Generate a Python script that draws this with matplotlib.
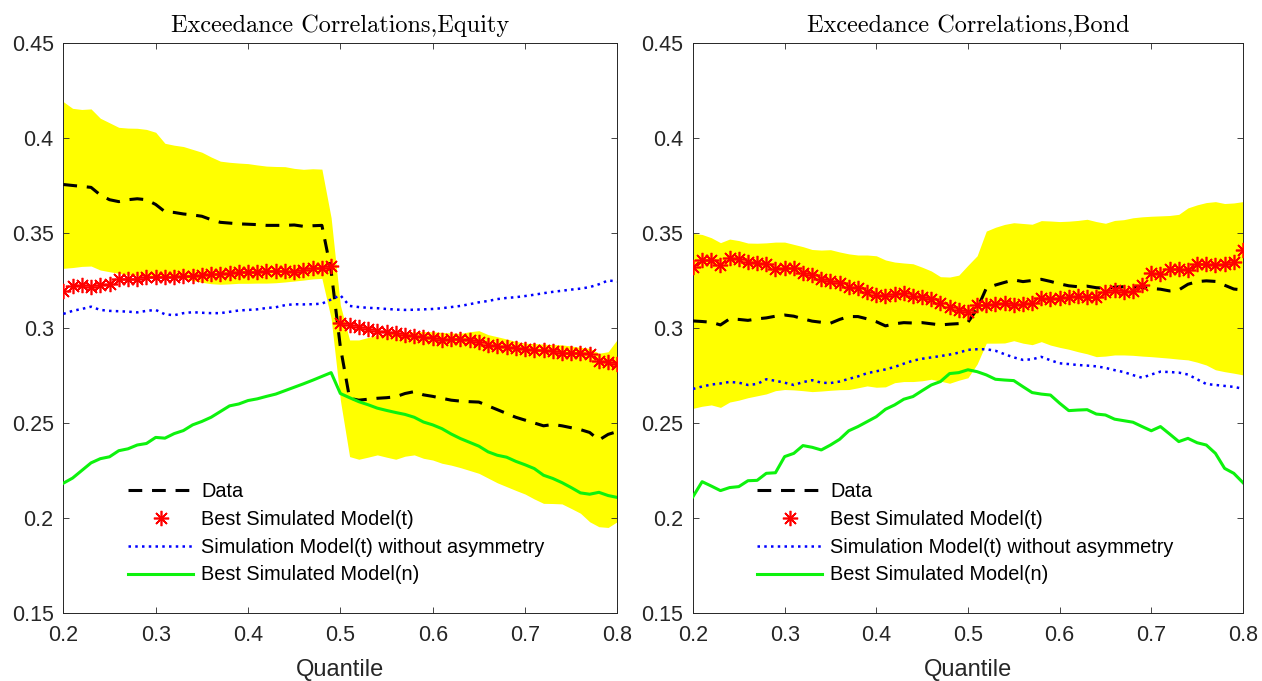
import numpy as np
import matplotlib
matplotlib.use("Agg")
import matplotlib.pyplot as plt
from matplotlib.ticker import FuncFormatter

# quantile grid shared by both panels
quantile = np.round(np.arange(0.20, 0.805, 0.01), 2)

# ---- equity ----
eq_data = [0.3755, 0.3750, 0.3745, 0.3740, 0.3700, 0.3675, 0.3665, 0.3675, 0.3680, 0.3675,
           0.3650, 0.3612, 0.3608, 0.3600, 0.3595, 0.3588, 0.3570, 0.3556, 0.3552, 0.3548,
           0.3546, 0.3544, 0.3540, 0.3540, 0.3540, 0.3542, 0.3535, 0.3538, 0.3540, 0.3300,
           0.2900, 0.2630, 0.2620, 0.2625, 0.2630, 0.2633, 0.2638, 0.2655, 0.2665, 0.2648,
           0.2640, 0.2630, 0.2620, 0.2615, 0.2612, 0.2610, 0.2590, 0.2570, 0.2550, 0.2530,
           0.2515, 0.2500, 0.2485, 0.2492, 0.2485, 0.2475, 0.2465, 0.2450, 0.2410, 0.2440,
           0.2455]
eq_best_t = [0.3195, 0.3220, 0.3228, 0.3215, 0.3224, 0.3232, 0.3256, 0.3260, 0.3258, 0.3268,
             0.3270, 0.3266, 0.3268, 0.3272, 0.3275, 0.3278, 0.3284, 0.3286, 0.3290, 0.3293,
             0.3295, 0.3297, 0.3298, 0.3302, 0.3300, 0.3297, 0.3305, 0.3314, 0.3318, 0.3328,
             0.3025, 0.3018, 0.3004, 0.2995, 0.2986, 0.2981, 0.2972, 0.2965, 0.2958, 0.2954,
             0.2945, 0.2937, 0.2940, 0.2940, 0.2937, 0.2925, 0.2912, 0.2904, 0.2898, 0.2893,
             0.2888, 0.2885, 0.2884, 0.2877, 0.2868, 0.2866, 0.2866, 0.2862, 0.2828, 0.2823,
             0.2811]
eq_sym_t = [0.3074, 0.3090, 0.3100, 0.3112, 0.3095, 0.3090, 0.3088, 0.3086, 0.3082, 0.3090,
            0.3095, 0.3072, 0.3067, 0.3078, 0.3083, 0.3080, 0.3078, 0.3078, 0.3085, 0.3092,
            0.3095, 0.3098, 0.3105, 0.3109, 0.3120, 0.3125, 0.3124, 0.3125, 0.3128, 0.3150,
            0.3172, 0.3116, 0.3110, 0.3106, 0.3104, 0.3100, 0.3097, 0.3095, 0.3096, 0.3098,
            0.3100, 0.3104, 0.3110, 0.3116, 0.3125, 0.3135, 0.3142, 0.3152, 0.3158, 0.3162,
            0.3168, 0.3175, 0.3183, 0.3190, 0.3196, 0.3202, 0.3207, 0.3215, 0.3230, 0.3250,
            0.3245]
eq_best_n = [0.2183, 0.2210, 0.2250, 0.2290, 0.2312, 0.2322, 0.2354, 0.2364, 0.2384, 0.2392,
             0.2424, 0.2420, 0.2444, 0.2460, 0.2490, 0.2508, 0.2530, 0.2560, 0.2590, 0.2600,
             0.2618, 0.2627, 0.2640, 0.2652, 0.2670, 0.2688, 0.2706, 0.2725, 0.2745, 0.2765,
             0.2655, 0.2633, 0.2612, 0.2596, 0.2578, 0.2566, 0.2555, 0.2545, 0.2530, 0.2505,
             0.2490, 0.2470, 0.2442, 0.2418, 0.2398, 0.2378, 0.2348, 0.2330, 0.2320, 0.2298,
             0.2280, 0.2260, 0.2225, 0.2208, 0.2186, 0.2160, 0.2132, 0.2125, 0.2135, 0.2118,
             0.2108]
eq_band_hi = [0.4191, 0.4156, 0.4150, 0.4153, 0.4104, 0.4080, 0.4056, 0.4052, 0.4051, 0.4045,
              0.4030, 0.3972, 0.3962, 0.3955, 0.3940, 0.3925, 0.3900, 0.3878, 0.3872, 0.3868,
              0.3865, 0.3858, 0.3852, 0.3850, 0.3849, 0.3840, 0.3835, 0.3838, 0.3836, 0.3580,
              0.3120, 0.2937, 0.2937, 0.2950, 0.2963, 0.2970, 0.2975, 0.2978, 0.2980, 0.2981,
              0.2980, 0.2977, 0.2974, 0.2972, 0.2980, 0.2986, 0.2965, 0.2954, 0.2942, 0.2930,
              0.2920, 0.2918, 0.2915, 0.2913, 0.2911, 0.2905, 0.2898, 0.2893, 0.2867, 0.2875,
              0.2940]
eq_band_lo = [0.3314, 0.3318, 0.3324, 0.3326, 0.3305, 0.3296, 0.3288, 0.3280, 0.3277, 0.3273,
              0.3270, 0.3268, 0.3265, 0.3261, 0.3250, 0.3240, 0.3233, 0.3230, 0.3232, 0.3235,
              0.3235, 0.3236, 0.3236, 0.3238, 0.3242, 0.3247, 0.3252, 0.3258, 0.3261, 0.3050,
              0.2620, 0.2323, 0.2309, 0.2320, 0.2332, 0.2320, 0.2309, 0.2325, 0.2332, 0.2314,
              0.2305, 0.2288, 0.2278, 0.2265, 0.2250, 0.2235, 0.2210, 0.2185, 0.2165, 0.2145,
              0.2126, 0.2100, 0.2077, 0.2076, 0.2074, 0.2050, 0.2025, 0.1980, 0.1954, 0.1950,
              0.1981]

# ---- bond ----
bd_data = [0.3037, 0.3034, 0.3030, 0.3016, 0.3048, 0.3045, 0.3040, 0.3048, 0.3053, 0.3062,
           0.3068, 0.3062, 0.3048, 0.3036, 0.3030, 0.3025, 0.3045, 0.3060, 0.3060, 0.3048,
           0.3033, 0.3011, 0.3022, 0.3028, 0.3026, 0.3028, 0.3022, 0.3016, 0.3020, 0.3023,
           0.3030, 0.3100, 0.3209, 0.3226, 0.3240, 0.3253, 0.3244, 0.3250, 0.3256, 0.3245,
           0.3232, 0.3222, 0.3217, 0.3220, 0.3212, 0.3209, 0.3215, 0.3217, 0.3215, 0.3212,
           0.3208, 0.3204, 0.3195, 0.3200, 0.3230, 0.3244, 0.3248, 0.3245, 0.3225, 0.3205,
           0.3200]
bd_best_t = [0.3323, 0.3358, 0.3358, 0.3332, 0.3367, 0.3362, 0.3349, 0.3344, 0.3337, 0.3309,
             0.3314, 0.3318, 0.3291, 0.3279, 0.3258, 0.3246, 0.3236, 0.3218, 0.3210, 0.3188,
             0.3175, 0.3168, 0.3178, 0.3185, 0.3170, 0.3162, 0.3150, 0.3130, 0.3110, 0.3095,
             0.3086, 0.3120, 0.3121, 0.3128, 0.3130, 0.3122, 0.3126, 0.3130, 0.3156, 0.3152,
             0.3156, 0.3162, 0.3168, 0.3163, 0.3165, 0.3190, 0.3200, 0.3191, 0.3195, 0.3226,
             0.3291, 0.3284, 0.3311, 0.3310, 0.3305, 0.3337, 0.3337, 0.3332, 0.3337, 0.3349,
             0.3411]
bd_sym_t = [0.2679, 0.2692, 0.2702, 0.2708, 0.2716, 0.2712, 0.2700, 0.2705, 0.2730, 0.2722,
            0.2712, 0.2700, 0.2715, 0.2725, 0.2712, 0.2710, 0.2718, 0.2732, 0.2745, 0.2762,
            0.2772, 0.2782, 0.2795, 0.2812, 0.2828, 0.2838, 0.2845, 0.2852, 0.2860, 0.2870,
            0.2885, 0.2888, 0.2888, 0.2880, 0.2862, 0.2845, 0.2832, 0.2835, 0.2848, 0.2830,
            0.2814, 0.2810, 0.2805, 0.2802, 0.2798, 0.2790, 0.2778, 0.2768, 0.2752, 0.2738,
            0.2755, 0.2770, 0.2768, 0.2765, 0.2755, 0.2730, 0.2705, 0.2700, 0.2695, 0.2690,
            0.2680]
bd_best_n = [0.2112, 0.2191, 0.2168, 0.2144, 0.2160, 0.2165, 0.2196, 0.2198, 0.2235, 0.2238,
             0.2323, 0.2340, 0.2381, 0.2372, 0.2358, 0.2384, 0.2414, 0.2459, 0.2481, 0.2507,
             0.2533, 0.2572, 0.2595, 0.2625, 0.2639, 0.2670, 0.2700, 0.2718, 0.2760, 0.2765,
             0.2780, 0.2770, 0.2753, 0.2730, 0.2726, 0.2723, 0.2691, 0.2660, 0.2652, 0.2647,
             0.2604, 0.2565, 0.2568, 0.2570, 0.2547, 0.2542, 0.2520, 0.2512, 0.2504, 0.2481,
             0.2459, 0.2481, 0.2442, 0.2402, 0.2419, 0.2396, 0.2384, 0.2340, 0.2261, 0.2235,
             0.2186]
bd_band_hi = [0.3498, 0.3492, 0.3475, 0.3449, 0.3468, 0.3460, 0.3447, 0.3446, 0.3448, 0.3452,
              0.3452, 0.3440, 0.3428, 0.3413, 0.3410, 0.3412, 0.3400, 0.3390, 0.3384, 0.3384,
              0.3380, 0.3358, 0.3347, 0.3342, 0.3338, 0.3320, 0.3300, 0.3270, 0.3268, 0.3278,
              0.3330, 0.3380, 0.3510, 0.3530, 0.3545, 0.3554, 0.3550, 0.3546, 0.3565, 0.3563,
              0.3560, 0.3562, 0.3566, 0.3572, 0.3560, 0.3551, 0.3566, 0.3570, 0.3580, 0.3585,
              0.3588, 0.3590, 0.3592, 0.3598, 0.3632, 0.3648, 0.3660, 0.3665, 0.3655, 0.3658,
              0.3665]
bd_band_lo = [0.2577, 0.2588, 0.2595, 0.2582, 0.2610, 0.2620, 0.2633, 0.2643, 0.2653, 0.2670,
              0.2676, 0.2674, 0.2670, 0.2665, 0.2668, 0.2672, 0.2675, 0.2676, 0.2685, 0.2695,
              0.2688, 0.2690, 0.2712, 0.2718, 0.2718, 0.2722, 0.2730, 0.2720, 0.2709, 0.2725,
              0.2738, 0.2810, 0.2920, 0.2920, 0.2921, 0.2933, 0.2920, 0.2912, 0.2928, 0.2910,
              0.2898, 0.2888, 0.2875, 0.2864, 0.2849, 0.2852, 0.2858, 0.2858, 0.2856, 0.2852,
              0.2849, 0.2845, 0.2841, 0.2836, 0.2832, 0.2820, 0.2805, 0.2780, 0.2770, 0.2762,
              0.2753]

titles = ["Exceedance Correlations,Equity", "Exceedance Correlations,Bond"]
labels = ["Data", "Best Simulated Model(t)",
          "Simulation Model(t) without asymmetry", "Best Simulated Model(n)"]

plt.rcParams['font.family'] = ['Liberation Sans', 'DejaVu Sans']
axcol = '#262626'


def draw_panel(ax, title, data, best_t, sym_t, best_n, lo, hi):
    ax.fill_between(quantile, lo, hi, color=(1, 1, 0), lw=0, zorder=1)
    ax.plot(quantile, data, color='k', lw=2.2, dashes=(4.5, 3.2), label=labels[0], zorder=3)
    ax.plot(quantile, best_t, ls='none', marker=(8, 2, 0), ms=11, mew=1.2,
            color=(1, 0, 0), label=labels[1], zorder=4)
    ax.plot(quantile, sym_t, color=(0, 0, 1), lw=1.8, ls=(0, (1, 1.7)), label=labels[2], zorder=3)
    ax.plot(quantile, best_n, color=(0.05, 0.95, 0.05), lw=2.2, label=labels[3], zorder=3)

    ax.set_xlim(0.2, 0.8)
    ax.set_ylim(0.15, 0.45)
    ax.set_xticks(np.arange(0.2, 0.81, 0.1))
    ax.set_yticks(np.arange(0.15, 0.451, 0.05))
    fmt = FuncFormatter(lambda v, p: '%g' % round(v, 2))
    ax.xaxis.set_major_formatter(fmt)
    ax.yaxis.set_major_formatter(fmt)
    ax.tick_params(direction='in', length=4, width=0.6, top=True, right=True,
                   colors=axcol, labelsize=15.5)
    ax.tick_params(axis='x', pad=9)
    ax.tick_params(axis='y', pad=7)
    for s in ax.spines.values():
        s.set_color(axcol)
        s.set_linewidth(0.7)
    ax.set_xlabel("Quantile", fontsize=17, color=axcol, labelpad=9)
    ax.set_title(title, family='cmr10', fontsize=17.5, pad=8)
    ax.legend(loc='lower left', bbox_to_anchor=(0.117, 0.05), frameon=False,
              fontsize=14.3, borderpad=0, borderaxespad=0, handlelength=3.27,
              handletextpad=0.4, labelspacing=0.45, numpoints=1)


fig = plt.figure(figsize=(12.62, 6.81), dpi=100)
ax1 = fig.add_axes([0.0502, 0.0999, 0.439, 0.837])
ax2 = fig.add_axes([0.5491, 0.0999, 0.4358, 0.837])

draw_panel(ax1, titles[0], eq_data, eq_best_t, eq_sym_t, eq_best_n, eq_band_lo, eq_band_hi)
draw_panel(ax2, titles[1], bd_data, bd_best_t, bd_sym_t, bd_best_n, bd_band_lo, bd_band_hi)

fig.savefig("out.png", dpi=100)
